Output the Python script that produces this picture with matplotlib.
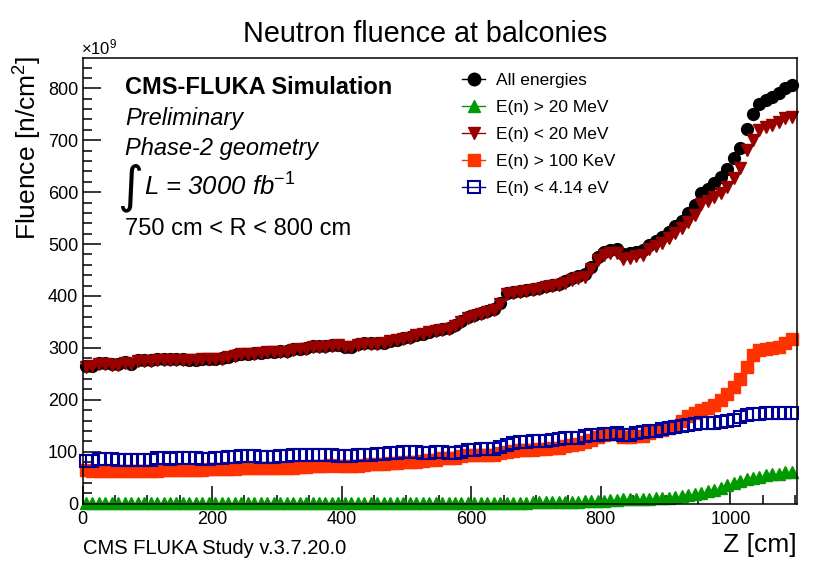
import matplotlib
matplotlib.use('Agg')
import matplotlib.pyplot as plt
from matplotlib.lines import Line2D
from matplotlib.ticker import MultipleLocator
import numpy as np

plt.rcParams['font.family'] = ['Liberation Sans', 'DejaVu Sans']
plt.rcParams['mathtext.fontset'] = 'custom'
plt.rcParams['mathtext.rm'] = 'Liberation Sans'
plt.rcParams['mathtext.it'] = 'Liberation Sans:italic'
plt.rcParams['mathtext.bf'] = 'Liberation Sans:bold'

# bin centres along Z (10 cm bins)
z_cm = np.arange(5, 1100, 10)

# fluence in units of 1e9 n/cm2
all_energies = [265, 266, 270, 270, 268, 268, 272, 269, 276, 276,
                276, 278, 278, 278, 278, 278, 277, 277, 279, 279,
                279, 280, 283, 286, 289, 289, 290, 291, 293, 293,
                294, 294, 297, 298, 299, 303, 303, 303, 305, 306,
                302, 302, 307, 309, 309, 309, 310, 314, 316, 319,
                321, 325, 327, 331, 334, 336, 338, 344, 352, 359,
                364, 367, 372, 375, 387, 406, 408, 409, 411, 414,
                416, 420, 422, 424, 428, 434, 438, 442, 456, 475,
                484, 489, 490, 480, 482, 485, 488, 499, 506, 513,
                523, 534, 545, 560, 575, 599, 606, 617, 629, 645,
                665, 685, 722, 750, 770, 778, 784, 791, 800, 806]

gt_20mev = [1, 1, 1, 1, 1, 1, 1, 1, 1, 1,
            1, 1, 1, 1, 1, 1, 1, 1, 1, 1,
            1, 1, 1, 1, 1, 1, 1, 1, 1, 1,
            1, 1, 1, 1, 1, 1, 1, 1, 1, 1,
            1, 1, 1, 1, 1, 1, 1, 1, 1, 1,
            1, 1, 1, 1, 1, 1, 1, 2, 2, 2,
            2, 2, 2, 2, 2, 2, 2, 2, 2, 3,
            3, 3, 3, 3, 3, 4, 4, 5, 5, 5,
            6, 7, 7, 8, 8, 8, 9, 9, 10, 10,
            11, 13, 15, 17, 19, 21, 24, 27, 31, 35,
            39, 43, 47, 50, 52, 55, 57, 58, 60, 61]

lt_20mev = [264, 265, 269, 269, 267, 267, 271, 268, 275, 275,
            275, 277, 277, 277, 277, 277, 276, 276, 278, 278,
            278, 279, 282, 285, 288, 288, 289, 290, 292, 292,
            293, 293, 296, 297, 298, 302, 302, 302, 304, 305,
            301, 301, 306, 308, 308, 308, 309, 313, 315, 318,
            320, 324, 326, 330, 333, 335, 337, 342, 350, 357,
            362, 365, 370, 373, 385, 404, 406, 407, 409, 411,
            413, 417, 419, 421, 425, 430, 434, 437, 451, 470,
            478, 482, 483, 472, 474, 477, 479, 490, 496, 503,
            512, 521, 530, 543, 556, 578, 582, 590, 598, 610,
            627, 646, 681, 700, 720, 725, 729, 736, 742, 745]

gt_100kev = [64, 63, 62, 62, 62, 62, 62, 63, 62, 62,
             62, 63, 64, 65, 65, 65, 65, 65, 65, 66,
             66, 66, 66, 67, 68, 68, 68, 68, 68, 68,
             69, 69, 69, 70, 71, 73, 73, 73, 74, 73,
             72, 72, 73, 75, 76, 76, 77, 78, 79, 80,
             81, 81, 82, 84, 85, 87, 88, 87, 91, 93,
             93, 93, 94, 94, 97, 99, 102, 103, 104, 104,
             106, 106, 107, 108, 111, 113, 114, 118, 123, 128,
             133, 135, 134, 129, 129, 130, 131, 136, 139, 141,
             146, 149, 160, 168, 175, 180, 185, 190, 200, 212,
             225, 240, 263, 286, 296, 298, 300, 302, 310, 317]

lt_4ev = [82, 82, 86, 86, 86, 85, 84, 84, 85, 85,
          85, 87, 87, 86, 87, 87, 87, 87, 86, 86,
          87, 88, 89, 90, 91, 91, 91, 90, 89, 90,
          91, 92, 93, 93, 93, 93, 93, 93, 93, 92,
          92, 92, 93, 93, 94, 95, 96, 97, 98, 99,
          99, 99, 97, 97, 99, 99, 98, 98, 100, 104,
          104, 105, 105, 105, 110, 113, 117, 119, 119, 120,
          121, 121, 122, 124, 126, 126, 127, 130, 132, 133,
          134, 135, 136, 132, 132, 136, 138, 139, 140, 143,
          146, 148, 150, 151, 153, 155, 156, 156, 157, 160,
          162, 166, 171, 172, 172, 174, 174, 175, 175, 175]

labels = ['All energies', 'E(n) > 20 MeV', 'E(n) < 20 MeV',
          'E(n) > 100 KeV', 'E(n) < 4.14 eV']

fig = plt.figure(figsize=(8.32, 5.74), dpi=100)
ax = fig.add_axes([0.0992, 0.1226, 0.8588, 0.7769])

# draw markers only, like ROOT "P" option
ax.plot(z_cm, all_energies, 'o', color='black', ms=8.5, clip_on=False)
ax.plot(z_cm, gt_20mev, '^', color='#009900', ms=8.5, clip_on=False)
ax.plot(z_cm, lt_20mev, 'v', color='#990000', ms=8.5, clip_on=False)
ax.plot(z_cm, gt_100kev, 's', color='#ff3300', ms=8, clip_on=False)
ax.plot(z_cm, lt_4ev, 's', color='#000099', mfc='none', mew=1.5, ms=8,
        clip_on=False)

ax.set_xlim(0, 1103)
ax.set_ylim(0, 859)
ax.xaxis.set_major_locator(MultipleLocator(200))
ax.xaxis.set_minor_locator(MultipleLocator(50))
ax.yaxis.set_major_locator(MultipleLocator(100))
ax.yaxis.set_minor_locator(MultipleLocator(20))
ax.tick_params(which='both', direction='in', top=False, right=False,
               labelsize=13, width=1.1)
ax.tick_params(which='major', length=13)
ax.tick_params(which='minor', length=6.5)
ax.tick_params(axis='x', pad=5)
ax.tick_params(axis='y', pad=3)
for sp in ax.spines.values():
    sp.set_linewidth(1.1)

# legend
handles = [
    Line2D([], [], color='black', marker='o', ms=9, lw=1),
    Line2D([], [], color='#009900', marker='^', ms=9, lw=1),
    Line2D([], [], color='#990000', marker='v', ms=9, lw=1),
    Line2D([], [], color='#ff3300', marker='s', ms=8.5, lw=1),
    Line2D([], [], color='#000099', marker='s', mfc='none', mew=1.5,
           ms=8.5, lw=1),
]
fig.legend(handles, labels, loc='upper left',
           bbox_to_anchor=(462 / 832, 1 - 72.5 / 574), frameon=False,
           fontsize=12.5, borderpad=0, borderaxespad=0,
           handlelength=1.35, handletextpad=0.6, labelspacing=0.69)

# texts
fig.text(0.511, 1 - 34 / 574, 'Neutron fluence at balconies',
         ha='center', va='center', fontsize=20.7)
fig.text(28 / 832, 1 - 148 / 574, 'Fluence [n/cm$^{2}$]', rotation=90,
         ha='center', va='center', fontsize=19)
fig.text(797 / 832, 1 - 545 / 574, 'Z [cm]', ha='right', va='center',
         fontsize=19)
fig.text(81 / 832, 1 - 47 / 574, r'$\times$10$^{9}$', ha='left',
         va='center', fontsize=12)
fig.text(83 / 832, 1 - 549 / 574, 'CMS FLUKA Study v.3.7.20.0',
         ha='left', va='center', fontsize=14.5)

fig.text(125 / 832, 1 - 88 / 574, 'CMS-FLUKA Simulation', ha='left',
         va='center', fontsize=17, fontweight='bold')
fig.text(125 / 832, 1 - 119 / 574, 'Preliminary', ha='left',
         va='center', fontsize=17, fontstyle='italic')
fig.text(125 / 832, 1 - 148 / 574, 'Phase-2 geometry', ha='left',
         va='center', fontsize=17, fontstyle='italic')
fig.text(117 / 832, 1 - 188 / 574, '\u222b', ha='left', va='center',
         fontsize=36, family=['DejaVu Sans'])
fig.text(144 / 832, 1 - 187 / 574, 'L = 3000 fb$^{-1}$', ha='left',
         va='center', fontsize=18.5, fontstyle='italic')
fig.text(125 / 832, 1 - 229 / 574, '750 cm < R < 800 cm', ha='left',
         va='center', fontsize=17)

fig.savefig('out.png', dpi=100)
